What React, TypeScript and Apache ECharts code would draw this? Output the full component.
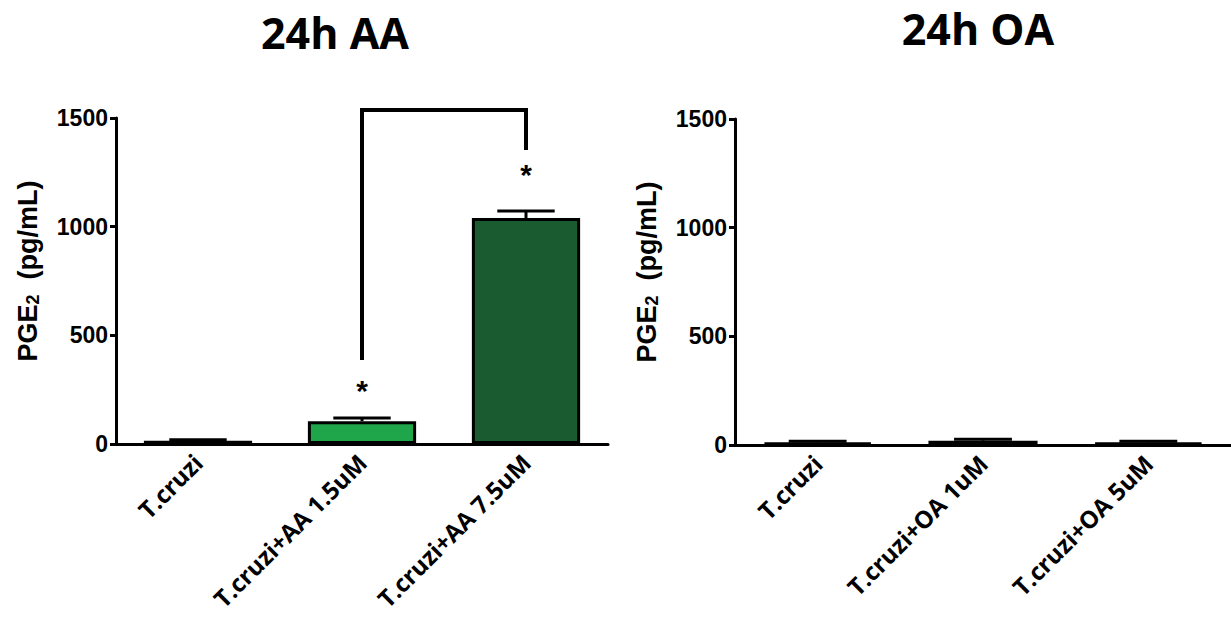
import React, { useEffect, useRef } from "react";
import * as echarts from "echarts";

const titles = ["24h AA", "24h OA"];
const aaCategories = ["T.cruzi", "T.cruzi+AA 1.5uM", "T.cruzi+AA 7.5uM"];
const aaValues = [15, 105, 1040];
const aaErrors = [5, 15, 32];
const aaColors = ["#0a0a0a", "#1fa54a", "#1b5b30"];
const oaCategories = ["T.cruzi", "T.cruzi+OA 1uM", "T.cruzi+OA 5uM"];
const oaValues = [12, 20, 12];
const oaErrors = [5, 6, 5];
const oaColors = ["#0a0a0a", "#1b6b30", "#0a0a0a"];
const yTicks = { min: 0, max: 1500, interval: 500 };
const yName = "PGE{sub|2}  (pg/mL)";
// bracket: [fromCategory, fromValue, toCategory, toValue, topValue]
const bracket = [[1, 386, 2, 1353, 1537]];
// stars: [category, value]
const aaStars = [[1, 248], [2, 1238]];

const tickFont = "'Liberation Sans', Arial, sans-serif";
const labelFont = "'Open Sans', 'Liberation Sans', sans-serif";

function makeXAxis(cats: string[], gridIndex: number) {
  return {
    type: "category",
    gridIndex,
    data: cats,
    axisLine: { lineStyle: { color: "#000", width: 3 } },
    axisTick: { alignWithLabel: true, length: 8, lineStyle: { color: "#000", width: 3 } },
    axisLabel: {
      rotate: 45,
      color: "#000",
      fontWeight: "bold",
      fontSize: 24,
      fontFamily: labelFont,
      margin: 14,
    },
  };
}

function makeYAxis(gridIndex: number) {
  return {
    type: "value",
    gridIndex,
    min: yTicks.min,
    max: yTicks.max,
    interval: yTicks.interval,
    name: yName,
    nameLocation: "middle",
    nameGap: 74,
    nameTextStyle: {
      color: "#000",
      fontWeight: "bold",
      fontSize: 27,
      fontFamily: tickFont,
      padding: [0, 0, 0, 20],
      rich: {
        sub: {
          fontSize: 18,
          fontWeight: "bold",
          fontFamily: tickFont,
          color: "#000",
          padding: [10, 0, 0, 0],
        },
      },
    },
    splitLine: { show: false },
    axisLine: { show: true, lineStyle: { color: "#000", width: 3 } },
    axisTick: { show: true, length: 6, lineStyle: { color: "#000", width: 3 } },
    axisLabel: {
      color: "#000",
      fontWeight: "bold",
      fontSize: 23,
      fontFamily: tickFont,
      margin: 8,
      formatter: (v: number) => String(v),
    },
  };
}

function barSeries(values: number[], colors: string[], idx: number) {
  return {
    type: "bar",
    xAxisIndex: idx,
    yAxisIndex: idx,
    barWidth: "66%",
    data: values.map((v, i) => ({
      value: v,
      itemStyle: { color: colors[i], borderColor: "#000", borderWidth: 3 },
    })),
  };
}

function errorSeries(values: number[], errors: number[], idx: number) {
  return {
    type: "custom",
    xAxisIndex: idx,
    yAxisIndex: idx,
    z: 1,
    data: values.map((v, i) => [i, v, v + errors[i]]),
    renderItem: (params: any, api: any) => {
      const x = api.value(0);
      const base = api.coord([x, api.value(1)]);
      const top = api.coord([x, api.value(2)]);
      const bw = api.size([1, 0])[0] * 0.35;
      return {
        type: "group",
        children: [
          {
            type: "line",
            shape: { x1: base[0], y1: base[1], x2: top[0], y2: top[1] },
            style: { stroke: "#000", lineWidth: 3 },
          },
          {
            type: "line",
            shape: { x1: top[0] - bw / 2, y1: top[1], x2: top[0] + bw / 2, y2: top[1] },
            style: { stroke: "#000", lineWidth: 3 },
          },
        ],
      };
    },
  };
}

const titleStyle = {
  color: "#000",
  fontWeight: "bold",
  fontSize: 43,
  lineHeight: 34,
  fontFamily: labelFont,
};

export default function App() {
  const ref = useRef<HTMLDivElement>(null);
  useEffect(() => {
    if (!ref.current) return;
    const chart = echarts.init(ref.current, null, { renderer: "svg" });
    chart.setOption({
      animation: false,
      backgroundColor: "#fff",
      title: [
        {
          text: titles[0],
          left: 335,
          top: 15,
          padding: 0,
          textAlign: "center",
          textStyle: titleStyle,
        },
        {
          text: titles[1],
          left: 978,
          top: 11,
          padding: 0,
          textAlign: "center",
          textStyle: titleStyle,
        },
      ],
      grid: [
        { left: 116, top: 118, width: 492, height: 326, containLabel: false },
        { left: 735, top: 119, width: 496, height: 326, containLabel: false },
      ],
      xAxis: [makeXAxis(aaCategories, 0), makeXAxis(oaCategories, 1)],
      yAxis: [makeYAxis(0), makeYAxis(1)],
      series: [
        barSeries(aaValues, aaColors, 0),
        barSeries(oaValues, oaColors, 1),
        errorSeries(aaValues, aaErrors, 0),
        errorSeries(oaValues, oaErrors, 1),
        {
          type: "custom",
          xAxisIndex: 0,
          yAxisIndex: 0,
          clip: false,
          data: bracket,
          renderItem: (params: any, api: any) => {
            const a = api.coord([api.value(0), api.value(1)]);
            const b = api.coord([api.value(2), api.value(3)]);
            const topY = api.coord([api.value(0), api.value(4)])[1];
            return {
              type: "polyline",
              shape: { points: [a, [a[0], topY], [b[0], topY], b] },
              style: { stroke: "#000", lineWidth: 4, fill: "none", lineJoin: "miter" },
            };
          },
        },
        {
          type: "custom",
          xAxisIndex: 0,
          yAxisIndex: 0,
          clip: false,
          data: aaStars,
          renderItem: (params: any, api: any) => {
            const p = api.coord([api.value(0), api.value(1)]);
            return {
              type: "text",
              x: p[0],
              y: p[1],
              style: {
                text: "*",
                fill: "#000",
                fontSize: 30,
                fontWeight: "bold",
                fontFamily: tickFont,
                align: "center",
                verticalAlign: "middle",
              },
            };
          },
        },
      ],
    });
    return () => chart.dispose();
  }, []);
  return (
    <div
      ref={ref}
      style={{ position: "fixed", left: 0, top: 0, width: 1231, height: 617 }}
    />
  );
}
